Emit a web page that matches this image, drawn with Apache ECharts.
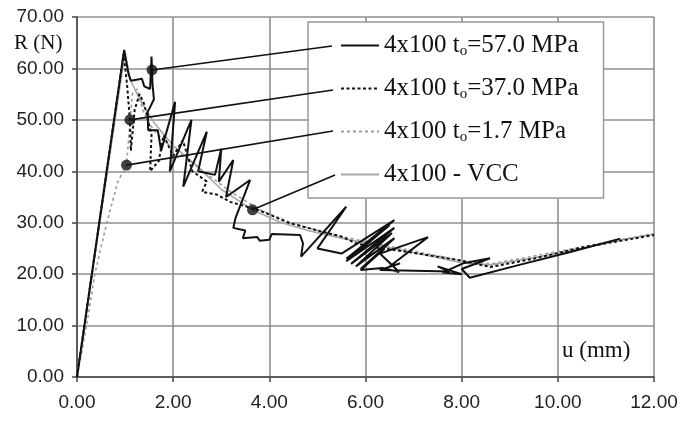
<!DOCTYPE html>
<html>
<head>
<meta charset="utf-8">
<script src="https://cdn.jsdelivr.net/npm/echarts@6/dist/echarts.min.js"></script>
<style>
  html, body { margin: 0; padding: 0; background: #fff; }
  #chart { width: 681px; height: 421px; }
</style>
</head>
<body>
<div id="chart"></div>
<script>
// Load R (N) versus displacement u (mm) for the 4x100 specimens
const seriesNames = [
  '4x100 t{o|o}=57.0 MPa',
  '4x100 t{o|o}=37.0 MPa',
  '4x100 t{o|o}=1.7 MPa',
  '4x100 - VCC'
];

// [u, R] pairs
const curve57 = [
  [0, 0], [0.98, 63.6], [1.07, 59], [1.12, 57.6], [1.35, 58], [1.40, 56.5], [1.52, 56],
  [1.55, 62.3], [1.57, 57], [1.60, 54], [1.47, 51.5], [1.48, 48], [1.68, 48], [1.75, 44],
  [2.04, 53.5], [1.93, 40], [2.38, 50], [2.21, 37], [2.70, 47.7], [2.52, 40], [2.87, 39.3],
  [3.0, 44.4], [2.95, 38], [3.25, 42.2], [3.1, 35], [3.6, 38.3], [3.3, 31], [3.25, 29],
  [3.5, 28.5], [3.45, 27], [3.75, 27.2], [3.8, 26.5], [4.0, 26.7], [4.05, 27.8], [4.64, 27.6],
  [4.7, 26], [4.66, 23.4], [5.6, 33.1], [5.0, 25], [5.5, 24], [6.6, 30.5], [5.6, 23],
  [6.5, 29.5], [5.6, 22.5], [6.6, 29], [5.7, 22], [6.55, 28], [5.8, 21.5], [6.6, 27],
  [5.9, 21], [6.4, 25], [5.9, 20.8], [6.35, 21.2], [6.7, 20.4], [6.3, 24], [7.3, 27.2],
  [6.5, 21.5], [6.72, 22.1], [6.3, 20.8], [7.75, 20.5], [7.5, 21.5], [8.0, 20.0], [7.6, 20.3],
  [8.03, 22.1], [8.59, 23.1], [8.0, 21], [8.17, 19.3], [9.2, 21.8], [10.3, 24.4], [11.3, 26.9]
];

const curve37 = [
  [0, 0], [0.97, 62.8], [1.04, 57], [1.10, 50], [1.12, 44], [1.2, 52], [1.3, 55], [1.4, 53],
  [1.55, 47], [1.52, 40], [1.7, 42], [1.8, 47], [2.0, 43], [2.2, 46], [2.4, 40], [2.7, 38],
  [2.6, 36], [2.9, 35.5], [3.2, 34], [3.65, 32.8], [3.9, 32], [4.4, 30], [5.0, 28.5],
  [5.5, 27.3], [5.8, 26], [6.2, 25.2], [6.9, 24.3], [7.9, 22.8], [8.6, 21.4], [9.5, 23],
  [10.5, 25.2], [12, 27.6]
];

const curve17 = [
  [0, 0], [0.2, 10], [0.37, 20], [0.62, 30], [0.85, 38], [1.03, 41.2], [1.08, 47], [1.15, 55],
  [1.25, 56], [1.35, 52.5], [1.45, 50], [1.6, 48], [1.8, 46], [2.2, 43], [2.7, 39.5],
  [3.2, 36], [3.8, 32.5], [4.5, 29.8], [5.2, 28], [6, 26.3], [7, 24.5], [8, 22.6],
  [8.6, 22], [9.5, 23.5], [10.5, 25.3], [12, 27.9]
];

const curveVCC = [
  [0, 0], [1.0, 63.2], [1.1, 58], [1.3, 54], [1.6, 49.5], [2.0, 45], [2.5, 41], [3.0, 36.5],
  [3.65, 32.5], [4.2, 30.2], [4.8, 28.5], [5.5, 27], [6.3, 25.5], [7.0, 24.2], [8.0, 22.2],
  [8.6, 21.8], [9.5, 23.2], [10.5, 25], [11.3, 26.6], [12, 27.8]
];

// Points picked out on each curve, joined to their legend entries
const markedPoints = [[1.56, 59.7], [1.10, 50.0], [1.03, 41.2], [3.65, 32.5]];
const leaderEnds = [[332, 46], [333, 90], [333, 131], [335, 175]];

const xTicks = { min: 0, max: 12, interval: 2 };
const yTicks = { min: 0, max: 70, interval: 10 };

const chart = echarts.init(document.getElementById('chart'), null, { renderer: 'canvas' });

const tickFont = { fontFamily: 'Liberation Sans', fontSize: 19, color: '#222' };
const serif = 'Liberation Serif';

function curveSeries(name, data, color, width, dash, z) {
  return {
    name, type: 'line', data, symbol: 'none', showSymbol: false, z,
    itemStyle: { color }, color,
    lineStyle: { color, width, type: dash }
  };
}

chart.setOption({
  animation: false,
  backgroundColor: '#fff',
  grid: { left: 77, right: 27, top: 17, bottom: 44 },
  xAxis: {
    type: 'value', min: xTicks.min, max: xTicks.max, interval: xTicks.interval,
    axisLine: { lineStyle: { color: '#444', width: 1.5 } },
    axisTick: { show: true, length: 5, lineStyle: { color: '#444', width: 1.5 } },
    axisLabel: Object.assign({ margin: 16, formatter: v => v.toFixed(2) }, tickFont),
    splitLine: { show: true, lineStyle: { color: '#8f8f8f', width: 1.6 } }
  },
  yAxis: {
    type: 'value', min: yTicks.min, max: yTicks.max, interval: yTicks.interval,
    axisLine: { show: true, lineStyle: { color: '#444', width: 1.5 } },
    axisTick: { show: true, length: 5, lineStyle: { color: '#444', width: 1.5 } },
    axisLabel: Object.assign({ margin: 13, formatter: v => v.toFixed(2) }, tickFont),
    splitLine: { show: true, lineStyle: { color: '#8f8f8f', width: 1.6 } }
  },
  legend: {
    orient: 'vertical',
    left: 308, top: 22,
    padding: [11, 25, 11, 32],
    itemGap: 17, itemWidth: 38, itemHeight: 14,
    backgroundColor: '#fff', borderColor: '#9a9a9a', borderWidth: 1.5,
    selectedMode: false,
    itemStyle: { opacity: 0 },
    data: seriesNames,
    formatter: n => n,
    textStyle: {
      fontFamily: serif, fontSize: 25, color: '#111',
      rich: { o: { fontFamily: serif, fontSize: 15, color: '#111', padding: [12, 0, 0, 0] } }
    }
  },
  graphic: [
    { type: 'text', left: 14, top: 33, style: { text: 'R (N)', font: '21px "Liberation Serif"', fill: '#111' } },
    { type: 'text', left: 562, top: 339, style: { text: 'u (mm)', font: '23px "Liberation Serif"', fill: '#111' } }
  ],
  series: [
    curveSeries(seriesNames[3], curveVCC, '#a8a8a8', 1.6, 'solid', 2),
    curveSeries(seriesNames[2], curve17, '#9c9c9c', 1.6, [3, 3], 3),
    curveSeries(seriesNames[1], curve37, '#111', 2, [3, 2.5], 4),
    curveSeries(seriesNames[0], curve57, '#111', 2, 'solid', 5),
    { name: 'points', type: 'scatter', data: markedPoints, symbol: 'circle', symbolSize: 11, z: 10,
      itemStyle: { color: '#111' }, silent: true,
      markLine: {
        silent: true, symbol: ['none', 'none'], animation: false, z: 10,
        label: { show: false },
        lineStyle: { color: '#111', width: 1.6, type: 'solid' },
        data: markedPoints.map((p, i) => [{ coord: p }, { x: leaderEnds[i][0], y: leaderEnds[i][1] }])
      }
    }
  ]
});
</script>
</body>
</html>
